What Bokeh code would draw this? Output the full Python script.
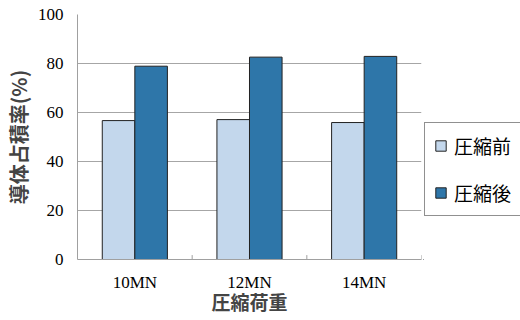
from bokeh.plotting import figure
from bokeh.layouts import row
from bokeh.models import ColumnDataSource, FactorRange, Range1d, Legend, LegendItem, FixedTicker
from bokeh.transform import dodge
from bokeh.embed import file_html
from bokeh.resources import INLINE

categories = ["10MN", "12MN", "14MN"]
before = [56.7, 57.1, 55.9]
after = [78.9, 82.6, 82.9]
series_names = ["圧縮前", "圧縮後"]
y_ticks = [0, 20, 40, 60, 80, 100]

light = "#c3d7ec"
dark = "#2e76a9"
edge = "#222222"

src = ColumnDataSource(dict(cat=categories, before=before, after=after,
                            y0=[0] * len(categories), y1=[1.8] * len(categories)))

p = figure(width=423, height=320, x_range=FactorRange(*categories, range_padding=0),
           y_range=Range1d(0, 100), output_backend="svg", toolbar_location=None,
           min_border_left=77, min_border_right=2, min_border_top=14, min_border_bottom=61)
p.outline_line_color = None
p.background_fill_color = "white"
p.border_fill_color = "white"

bw = 0.284
p.vbar(x=dodge("cat", -bw / 2, range=p.x_range), top="before", width=bw, source=src,
       fill_color=light, line_color=edge, line_width=1)
p.vbar(x=dodge("cat", bw / 2, range=p.x_range), top="after", width=bw, source=src,
       fill_color=dark, line_color=edge, line_width=1)

# boundary ticks between categories
p.segment(x0=dodge("cat", 0.5, range=p.x_range), y0="y0", x1=dodge("cat", 0.5, range=p.x_range),
          y1="y1", source=src, line_color="#a0a0a0", line_width=1)

p.yaxis.ticker = FixedTicker(ticks=y_ticks)
p.yaxis.major_tick_line_color = None
p.yaxis.minor_tick_line_color = None
p.yaxis.major_tick_out = 0
p.yaxis.major_tick_in = 0
p.yaxis.minor_tick_out = 0
p.yaxis.axis_line_color = "#a0a0a0"
p.yaxis.major_label_text_font = "Liberation Serif"
p.yaxis.major_label_text_font_size = "17px"
p.yaxis.major_label_text_color = "black"
p.yaxis.major_label_standoff = 14
p.yaxis.axis_label = "導体占積率(%)"
p.yaxis.axis_label_text_font = "Noto Sans CJK JP"
p.yaxis.axis_label_text_font_style = "bold"
p.yaxis.axis_label_text_font_size = "20px"
p.yaxis.axis_label_standoff = 2

p.xaxis.major_tick_line_color = None
p.xaxis.major_tick_out = 0
p.xaxis.major_tick_in = 0
p.xaxis.axis_line_color = "#a0a0a0"
p.xaxis.major_label_text_font = "Liberation Serif"
p.xaxis.major_label_text_font_size = "17px"
p.xaxis.major_label_text_color = "black"
p.xaxis.major_label_standoff = 13
p.xaxis.axis_label = "圧縮荷重"
p.xaxis.axis_label_text_font = "Noto Sans CJK JP"
p.xaxis.axis_label_text_font_style = "bold"
p.xaxis.axis_label_text_font_size = "19px"
p.xaxis.axis_label_standoff = -7

p.xgrid.grid_line_color = None
p.ygrid.grid_line_color = "#a6a6a6"
p.ygrid.grid_line_width = 1

# legend panel (proxy glyphs sit outside the visible range)
q = figure(width=97, height=320, x_range=Range1d(0, 1), y_range=Range1d(0, 1),
           x_axis_type=None, y_axis_type=None, output_backend="svg", toolbar_location=None,
           min_border=0)
q.outline_line_color = None
q.border_fill_color = "white"
q.background_fill_color = "white"
k1 = q.vbar(x=[-5], top=[-5], width=0.1, fill_color=light, line_color=edge)
k2 = q.vbar(x=[-5], top=[-5], width=0.1, fill_color=dark, line_color=edge)

legend = Legend(items=[LegendItem(label=series_names[0], renderers=[k1]),
                       LegendItem(label=series_names[1], renderers=[k2])],
                location=(1, 43), orientation="vertical")
legend.border_line_color = edge
legend.border_line_width = 1
legend.background_fill_color = "white"
legend.background_fill_alpha = 1
legend.label_text_font = "Noto Sans CJK JP"
legend.label_text_font_size = "19px"
legend.label_text_color = "black"
legend.glyph_width = 13
legend.glyph_height = 13
legend.label_standoff = 7
legend.spacing = 20
legend.padding = 9
legend.margin = 0
q.add_layout(legend, "center")

layout = row(p, q, spacing=0)
open("out.html", "w").write(file_html(layout, INLINE))
